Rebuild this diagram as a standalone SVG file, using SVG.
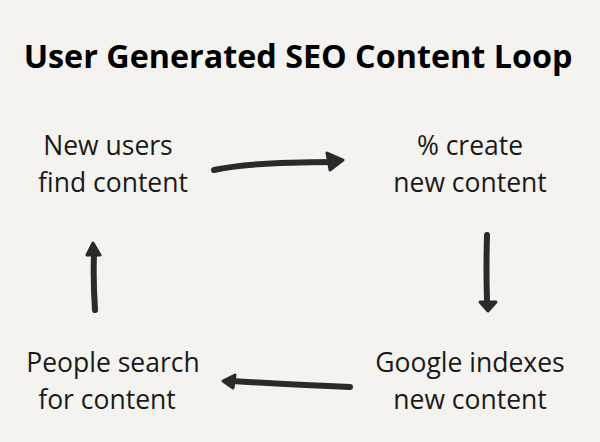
<svg xmlns="http://www.w3.org/2000/svg" width="600" height="442" viewBox="0 0 600 442">
<style>
.t{font-family:"Open Sans","Noto Sans",sans-serif;font-size:26.5px;fill:#1a1a1a;text-anchor:middle}
.h{font-family:"Open Sans","Noto Sans",sans-serif;font-size:32.3px;font-weight:bold;fill:#000;text-anchor:middle}
.a{fill:none;stroke:#2a2a2a;stroke-width:6;stroke-linecap:round}
.hd{fill:#2a2a2a;stroke:#2a2a2a;stroke-width:3;stroke-linejoin:round}
</style>
<rect width="600" height="442" fill="#f4f3ef"/>
<text class="h" x="298" y="68">User Generated SEO Content Loop</text>
<g id="n1"><text class="t" x="108" y="155">New users</text><text class="t" x="113" y="192">find content</text></g>
<g id="n2"><text class="t" x="470" y="155">% create</text><text class="t" x="470" y="192">new content</text></g>
<g id="n3"><text class="t" x="470" y="372">Google indexes</text><text class="t" x="470" y="409">new content</text></g>
<g id="n4"><text class="t" x="113" y="372">People search</text><text class="t" x="107" y="409">for content</text></g>
<g id="connectors">
<path class="a" d="M214,170 Q250,162 335,162"/>
<path class="hd" d="M327,153 L343,160 L330,170 Z"/>
<path class="a" d="M487,235 Q486,270 487,300"/>
<path class="hd" d="M480,302 L496,302 L488,311 Z"/>
<path class="a" d="M350,387 Q300,385 232,381"/>
<path class="hd" d="M235,375 L223,381 L233,388 Z"/>
<path class="a" d="M95,310 Q93,280 94,254"/>
<path class="hd" d="M87,255 L93,243 L100,255 Z"/>
</g>
</svg>
